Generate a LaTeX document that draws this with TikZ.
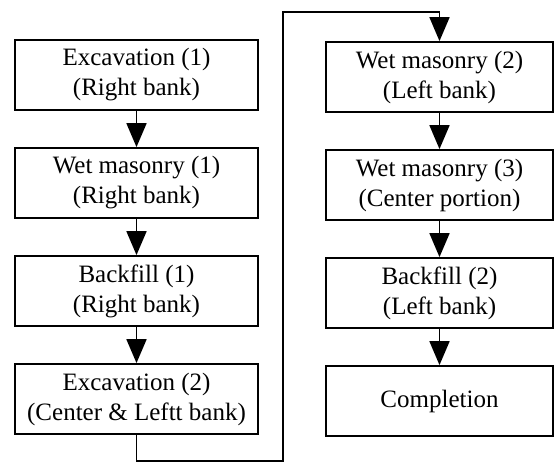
\documentclass[tikz,border=0pt]{standalone}
\usepackage{fontspec}
\setmainfont{Liberation Serif}
\usetikzlibrary{arrows.meta, positioning}

\tikzset{
    step box/.style={draw, line width=1.8pt, align=center, minimum height=70pt,
        font=\fontsize{25}{30}\selectfont, inner sep=1pt},
    left box/.style={step box, minimum width=243pt},
    right box/.style={step box, minimum width=227pt},
    flow/.style={line width=1.8pt, -{Triangle[length=24pt,width=20pt]}}
}

\begin{document}
\begin{tikzpicture}[x=1pt, y=-1pt, node distance=108pt, on grid]
        \useasboundingbox (0,0) rectangle (556,464);
        % left column
        \node[left box] (ex1) at (136.5,75) {Excavation (1)\\(Right bank)};
        \node[left box] (wm1) [below=of ex1] {Wet masonry (1)\\(Right bank)};
        \node[left box] (bf1) [below=of wm1] {Backfill (1)\\(Right bank)};
        \node[left box] (ex2) [below=of bf1] {Excavation (2)\\(Center \& Leftt bank)};
        % right column
        \node[right box] (wm2) at (439.5,77) {Wet masonry (2)\\(Left bank)};
        \node[right box] (wm3) [below=of wm2] {Wet masonry (3)\\(Center portion)};
        \node[right box] (bf2) [below=of wm3] {Backfill (2)\\(Left bank)};
        \node[right box] (done) [below=of bf2] {Completion};
        % turning points of the long connector
        \coordinate (lowturn) at (283,461);
        \coordinate (topturn) at (283,12);
        \draw[flow] (ex1) -- (wm1);
        \draw[flow] (wm1) -- (bf1);
        \draw[flow] (bf1) -- (ex2);
        \draw[flow] (ex2.south) |- (lowturn) -- (topturn) -| (wm2.north);
        \draw[flow] (wm2) -- (wm3);
        \draw[flow] (wm3) -- (bf2);
        \draw[flow] (bf2) -- (done);
\end{tikzpicture}
\end{document}
